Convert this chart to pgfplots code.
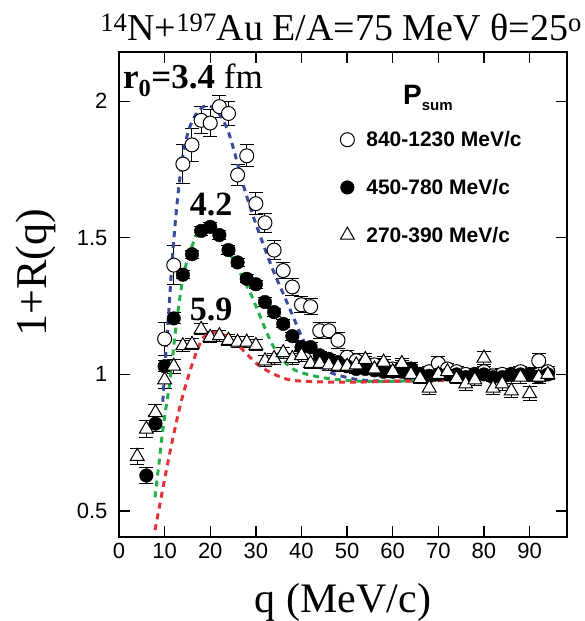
\documentclass[border=0pt]{standalone}
\usepackage{pgfplots}
\pgfplotsset{compat=1.18}
\usepackage{fontspec}
\setmainfont{Liberation Serif}
\setsansfont{Liberation Sans}
\definecolor{cblue}{HTML}{3B4C9B}
\definecolor{cgreen}{HTML}{25B04B}
\definecolor{cred}{HTML}{E5333B}
\begin{document}
\begin{tikzpicture}
\begin{axis}[
 at={(0,0)}, anchor=south west,
 scale only axis, width=448pt, height=485pt,
 xmin=0, xmax=98.2, ymin=0.405, ymax=2.18,
 xtick={0,10,...,90}, ytick={0.5,1,1.5,2},
 tick align=inside, major tick length=11pt,
 every tick/.style={black, line width=1.3pt},
 axis line style={line width=1.3pt},
 /pgf/number format/assume math mode=true,
 ticklabel style={font=\fontsize{22}{22}\selectfont\sffamily},
 xticklabel style={yshift=-3pt},
 yticklabel style={xshift=-8pt},
 clip=false,
 legend style={draw=none, fill=none, at={(0.487,0.845)}, anchor=north west,
   font=\fontsize{21}{21}\selectfont\sffamily\bfseries, row sep=27pt,
   /tikz/every odd column/.append style={column sep=10pt}},
 legend cell align=left,
]
% open circles 840-1230
\addplot[only marks, mark=*, mark size=7pt, mark options={fill=white, draw=black, line width=1pt},
  error bars/.cd, y dir=both, y explicit,
  error bar style={line width=1pt, black},
  error mark options={rotate=90, mark size=7pt, line width=1pt, black}]
 table[x=x, y=y, y error=e] {
x y e
10 1.13 0.06
12 1.40 0.07
14 1.77 0.07
16 1.84 0.06
18 1.93 0.05
20 1.92 0.05
22 1.98 0.04
24 1.955 0.045
26 1.73 0.04
28 1.80 0.04
30 1.625 0.04
32 1.555 0.035
34 1.455 0.035
36 1.38 0.03
38 1.32 0.03
40 1.255 0.03
42 1.248 0.03
44 1.16 0.03
46 1.16 0.03
48 1.125 0.03
50 1.063 0.025
52 1.05 0.025
54 1.04 0.025
56 1.035 0.025
58 1.03 0.025
60 1.02 0.025
62 1.025 0.025
64 1.02 0.025
66 1.0 0.02
68 1.01 0.02
70 1.04 0.025
72 1.02 0.02
74 1.01 0.02
76 1.0 0.02
78 1.0 0.02
80 1.01 0.02
82 0.995 0.02
84 1.0 0.02
86 1.0 0.02
88 1.01 0.02
90 1.0 0.02
92 1.05 0.025
94 1.01 0.02
};
\addlegendentry{840-1230 MeV/c}
% filled circles 450-780
\addplot[only marks, mark=*, mark size=6.8pt, mark options={fill=black, draw=black},
  error bars/.cd, y dir=both, y explicit,
  error bar style={line width=1pt, black},
  error mark options={rotate=90, mark size=7pt, line width=1pt, black}]
 table[x=x, y=y, y error=e] {
x y e
6 0.63 0.03
8 0.82 0.03
10 1.03 0.02
12 1.205 0.02
14 1.365 0.015
16 1.44 0.015
18 1.525 0.015
20 1.54 0.015
22 1.51 0.015
24 1.455 0.015
26 1.41 0.015
28 1.35 0.015
30 1.33 0.015
32 1.265 0.015
34 1.228 0.015
36 1.185 0.015
38 1.14 0.015
40 1.10 0.015
42 1.10 0.015
44 1.07 0.015
46 1.057 0.015
48 1.045 0.015
50 1.03 0.015
52 1.02 0.015
54 1.02 0.015
56 1.015 0.015
58 1.01 0.015
60 1.01 0.015
62 1.01 0.015
64 1.02 0.015
66 1.0 0.015
68 0.995 0.015
70 1.0 0.015
72 1.0 0.015
74 1.0 0.015
76 0.99 0.015
78 1.0 0.015
80 1.0 0.015
82 0.99 0.015
84 0.99 0.015
86 1.0 0.015
88 1.0 0.015
90 1.0 0.015
92 0.99 0.015
94 1.0 0.015
};
\addlegendentry{450-780 MeV/c}
% triangles 270-390
\addplot[only marks, mark=triangle*, mark size=8pt, mark options={fill=white, draw=black, line width=1pt},
  error bars/.cd, y dir=both, y explicit,
  error bar style={line width=1pt, black},
  error mark options={rotate=90, mark size=7pt, line width=1pt, black}]
 table[x=x, y=y, y error=e] {
x y e
4 0.70 0.03
6 0.80 0.03
8 0.86 0.03
10 0.98 0.03
12 1.03 0.025
14 1.105 0.02
16 1.11 0.02
18 1.165 0.02
20 1.136 0.02
22 1.142 0.02
24 1.125 0.02
26 1.118 0.02
28 1.118 0.02
30 1.106 0.02
32 1.05 0.02
34 1.058 0.02
36 1.08 0.02
38 1.058 0.02
40 1.069 0.02
42 1.04 0.02
44 1.04 0.02
46 1.035 0.02
48 1.03 0.02
50 1.03 0.02
52 1.035 0.02
54 1.055 0.02
56 1.02 0.02
58 1.045 0.02
60 1.01 0.02
62 1.04 0.02
64 1.0 0.02
66 0.985 0.02
68 0.95 0.025
70 1.0 0.02
72 1.01 0.02
74 0.985 0.02
76 0.965 0.025
78 0.98 0.02
80 1.06 0.025
82 0.95 0.025
84 0.965 0.025
86 0.94 0.025
88 0.99 0.025
90 0.93 0.025
92 0.99 0.025
94 1.0 0.02
};
\addlegendentry{270-390 MeV/c}
% model curves
\addplot[forget plot, cblue, line width=3pt, dash pattern=on 6pt off 5pt, smooth] coordinates {
(9.6,0.9) (10.2,1.06) (10.8,1.2) (11.5,1.38) (12.3,1.55) (13.2,1.70) (14.2,1.82) (15.4,1.90)
(16.8,1.95) (18.5,1.98) (20.2,1.98) (21.9,1.955) (23.7,1.90) (25.2,1.82) (27.3,1.69) (29.5,1.575)
(31.6,1.477) (33.8,1.38) (36.4,1.28) (38.2,1.21) (40,1.14) (41.9,1.075) (44,1.035) (46,1.01)
(48.5,0.995) (52.8,0.98) (60,0.975) (70,0.98) (80,0.985) (95,0.99)};
\addplot[forget plot, cgreen, line width=3pt, dash pattern=on 6pt off 5pt, smooth] coordinates {
(7.9,0.55) (8.8,0.68) (9.7,0.81) (10.5,0.9) (11.2,0.98) (12.6,1.19) (14.1,1.36) (15.6,1.45)
(17,1.51) (18.5,1.54) (20,1.545) (22.5,1.495) (24.7,1.43) (26.9,1.36) (29,1.29) (31,1.21)
(33,1.13) (35,1.07) (37,1.035) (39,1.012) (42.6,0.995) (46.3,0.984) (52.8,0.975) (60,0.975)
(70,0.98) (80,0.985) (95,0.99)};
\addplot[forget plot, cred, line width=3pt, dash pattern=on 6pt off 5pt, smooth] coordinates {
(7.9,0.43) (9.7,0.59) (11.6,0.75) (13.7,0.905) (16.3,1.05) (18.5,1.135) (21.4,1.154) (25,1.124)
(28,1.075) (30.9,1.03) (34.6,0.996) (38.2,0.978) (46,0.972) (52.8,0.972) (60,0.975) (73,0.978)
(85,0.985) (95,0.99)};
% texts
\node[anchor=base] at (axis cs:48.7,2.222) {\fontsize{38}{38}\selectfont \textsuperscript{14}N+\textsuperscript{197}Au E/A=75 MeV θ=25\textsuperscript{o}};
\node[anchor=base west, inner sep=0pt] at (axis cs:0.88,2.046) {\fontsize{35}{35}\selectfont\textbf{r\textsubscript{0}=3.4} fm};
\node at (axis cs:20.2,1.622) {\fontsize{34}{34}\selectfont\textbf{4.2}};
\node at (axis cs:20.2,1.238) {\fontsize{34}{34}\selectfont\textbf{5.9}};
\node at (axis cs:67.7,2.013) {\sffamily\bfseries\fontsize{28}{28}\selectfont P\raisebox{-6pt}{\fontsize{15}{15}\selectfont sum}};
\node[anchor=base] at (axis cs:49.1,0.129) {\fontsize{42}{42}\selectfont q (MeV/c)};
\node[anchor=base, rotate=90] at (axis cs:-15.8,1.373) {\fontsize{44}{44}\selectfont 1+R(q)};
\end{axis}
\pgfresetboundingbox
\path[use as bounding box] (-119pt,-84pt) rectangle (466pt,537pt);
\end{tikzpicture}
\end{document}
